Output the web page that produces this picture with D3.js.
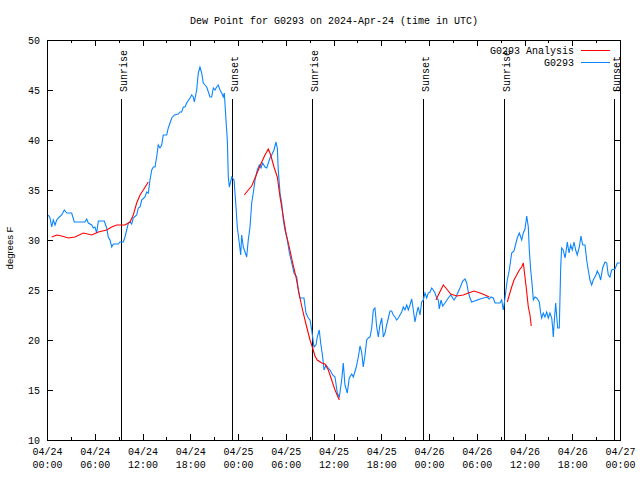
<!DOCTYPE html>
<html>
<head>
<meta charset="utf-8">
<script src="https://cdn.jsdelivr.net/npm/d3@7"></script>
<style>
  body { margin: 0; background: #fff; }
  svg text { font-family: "Liberation Mono", "DejaVu Sans Mono", monospace; font-size: 10px; fill: #000; }
  .ylab { font-family: "Liberation Sans", Arial, sans-serif; font-size: 9.5px; }
</style>
</head>
<body>
<svg width="640" height="480"></svg>
<script>
// hours since 2024-04-24 00:00 UTC, dew point in F
var station = [[0.16,32.5],[0.38,32.2],[0.59,31.3],[0.79,32.0],[1.01,31.5],[1.22,32.0],[1.42,32.2],[1.85,32.5],[2.17,33.0],[2.48,32.7],
  [3.10,32.7],[3.43,31.8],[4.77,31.8],[4.99,32.1],[5.19,31.7],[5.62,31.5],[5.82,31.2],[6.03,31.3],[6.24,30.7],[6.45,31.9],
  [7.20,31.9],[7.50,31.2],[7.70,30.3],[7.92,30.0],[8.13,29.3],[8.33,29.6],[8.96,29.6],[9.17,29.8],[9.59,29.8],[9.80,30.3],
  [10.01,31.0],[10.22,31.7],[10.43,31.8],[10.64,31.6],[10.84,32.2],[11.27,32.5],[11.47,33.2],[11.69,33.3],[11.90,34.0],[12.31,34.3],
  [12.53,34.8],[12.73,34.7],[12.94,36.0],[13.16,37.0],[13.36,37.3],[13.57,37.3],[13.78,38.3],[13.98,39.5],[14.20,39.2],[14.41,39.5],
  [14.61,40.5],[15.04,40.5],[15.24,41.2],[15.46,41.7],[15.67,42.2],[16.00,42.5],[16.50,42.6],[16.71,42.8],[16.93,42.8],[17.13,43.3],
  [17.34,43.3],[17.55,43.7],[17.97,44.2],[18.18,44.5],[18.38,44.3],[18.51,43.8],[18.81,45.0],[19.01,46.7],[19.22,47.3],[19.44,46.7],
  [19.64,45.7],[19.85,45.5],[20.07,45.3],[20.48,44.3],[20.69,44.3],[20.90,45.2],[21.11,45.0],[21.32,45.3],[21.52,45.5],[21.74,45.0],
  [21.95,44.7],[22.15,44.3],[22.28,44.7],[22.49,42.0],[22.66,40.0],[22.78,36.3],[22.91,35.3],[23.21,36.3],[23.50,36.0],[23.62,34.7],
  [23.75,33.3],[23.91,31.3],[24.16,29.7],[24.34,28.5],[24.46,30.5],[24.67,29.3],[24.88,28.8],[25.09,28.3],[25.29,30.0],[25.51,31.3],
  [25.72,33.7],[25.92,34.7],[26.14,36.0],[26.42,37.0],[26.68,37.5],[26.89,37.2],[27.10,37.7],[27.39,37.3],[27.61,37.2],[27.81,37.7],
  [28.02,38.2],[28.23,38.5],[28.52,39.0],[28.77,39.8],[28.94,39.2],[29.06,37.0],[29.28,34.7],[29.49,33.7],[29.69,32.0],[29.90,31.0],
  [30.19,30.0],[30.44,28.8],[30.75,27.7],[31.04,26.7],[31.38,26.3],[31.58,25.0],[31.79,24.2],[32.29,24.2],[32.54,22.7],[32.83,22.2],
  [33.05,22.0],[33.26,21.0],[33.38,20.3],[33.55,19.3],[33.80,19.5],[33.96,20.3],[34.21,21.0],[34.39,19.7],[34.64,18.3],[34.81,17.0],
  [35.06,17.5],[35.35,17.2],[35.56,17.0],[35.90,16.5],[36.19,16.3],[36.48,14.7],[36.73,14.3],[37.03,16.0],[37.23,17.7],[37.44,15.5],
  [37.73,14.7],[37.98,16.2],[38.29,16.6],[38.49,16.3],[38.83,17.2],[39.12,18.3],[39.33,19.4],[39.54,18.8],[39.74,17.3],[39.96,18.5],
  [40.17,20.0],[40.37,20.2],[40.59,20.3],[40.80,21.2],[41.00,23.0],[41.21,23.2],[41.43,21.3],[41.63,20.3],[41.84,21.5],[42.06,22.2],
  [42.26,20.3],[42.47,20.7],[42.68,21.5],[42.89,22.2],[43.10,22.9],[43.31,22.9],[43.51,22.5],[43.73,22.3],[43.94,22.0],[44.14,22.2],
  [44.35,22.5],[44.57,22.8],[44.77,23.3],[44.98,23.0],[45.20,23.5],[45.40,23.0],[45.61,23.5],[45.83,24.1],[46.03,23.0],[46.24,21.8],
  [46.45,22.7],[46.65,23.3],[46.87,22.5],[47.08,23.8],[47.28,24.0],[47.50,24.7],[47.71,24.2],[47.91,24.7],[48.12,24.8],[48.34,25.2],
  [48.54,25.0],[48.75,24.7],[48.97,24.2],[49.17,24.0],[49.29,23.1],[49.51,24.0],[49.72,23.4],[50.01,23.7],[50.42,24.2],[50.73,24.5],
  [51.14,24.0],[51.39,24.3],[51.89,25.2],[52.23,25.9],[52.52,26.1],[52.74,25.7],[52.94,24.8],[53.15,24.2],[53.36,23.8],[54.41,24.1],
  [55.25,24.3],[55.58,24.1],[55.79,24.3],[56.08,24.2],[56.29,23.7],[56.92,23.7],[57.13,24.0],[57.33,23.0],[57.55,24.2],[57.67,25.0],
  [57.84,26.0],[58.09,27.0],[58.39,28.7],[58.68,28.9],[58.93,29.7],[59.09,30.2],[59.35,30.7],[59.52,30.3],[59.65,30.0],[59.85,30.7],
  [60.06,31.1],[60.28,32.4],[60.48,31.3],[60.60,29.0],[60.78,27.0],[60.94,25.7],[61.11,24.0],[61.32,24.3],[61.53,24.2],[61.86,23.8],
  [62.03,22.7],[62.16,22.2],[62.36,22.7],[62.57,22.3],[62.79,22.8],[62.99,22.2],[63.20,22.7],[63.42,22.2],[63.54,21.2],[63.62,20.3],
  [63.75,22.0],[63.92,23.7],[64.05,22.3],[64.17,21.2],[64.37,21.2],[64.55,27.3],[64.67,29.2],[64.87,29.0],[65.09,28.2],[65.21,28.8],
  [65.38,29.8],[65.59,28.7],[65.80,29.5],[66.00,29.0],[66.22,29.8],[66.43,29.0],[66.63,28.5],[66.89,29.3],[67.10,30.4],[67.31,29.5],
  [67.60,29.5],[67.81,28.0],[68.01,27.0],[68.23,26.0],[68.44,25.5],[68.64,26.0],[68.98,26.5],[69.14,26.9],[69.40,26.5],[69.57,26.0],
  [69.82,27.2],[70.11,27.8],[70.33,27.7],[70.53,26.5],[70.74,26.3],[70.95,27.0],[71.37,27.1],[71.66,27.7],[72.00,27.7]];

// analysis, null marks a gap
var analysis = [[0.59,30.3],[1.22,30.5],[1.85,30.4],[2.68,30.2],[3.52,30.3],[4.56,30.7],[5.62,30.5],[6.45,30.8],[7.50,31.0],
  [8.13,31.3],[8.76,31.5],[9.80,31.5],[10.43,31.8],[10.84,32.5],[11.27,33.7],[11.69,34.5],[12.10,35.0],[12.73,35.8],
  [18.0,null],
  [24.79,34.5],[25.29,35.0],[25.72,35.4],[26.14,36.2],[26.55,37.0],[26.98,37.8],[27.39,38.5],[27.81,39.1],[28.11,38.5],
  [28.52,37.3],[28.94,36.3],[29.28,34.3],[29.62,32.7],[30.03,30.7],[30.44,29.3],[30.87,27.7],[31.29,26.3],[31.70,24.5],
  [32.20,22.7],[32.63,21.3],[33.05,20.0],[33.38,19.2],[33.67,18.4],[33.96,18.0],[34.52,17.7],[34.93,17.6],[35.35,17.0],
  [35.77,16.0],[36.19,15.0],[36.73,14.0],
  [42.0,null],
  [48.88,24.0],[49.17,24.5],[49.80,25.5],[50.22,25.1],[50.73,24.6],[51.48,24.4],[52.31,24.5],[52.94,24.7],[53.65,24.9],
  [54.41,24.7],[55.04,24.5],[55.58,24.3],
  [56.5,null],
  [57.84,23.8],[58.09,24.5],[58.39,25.3],[58.68,26.0],[59.02,26.5],[59.35,27.0],[59.65,27.3],[59.85,27.7],[60.06,26.3],
  [60.28,24.8],[60.48,23.3],[60.69,22.5],[60.85,21.4]];

var sunLabels = ["Sunrise","Sunset","Sunrise","Sunset","Sunrise","Sunset"];
var sunHours = [9.33, 23.2, 33.33, 47.3, 57.45, 71.2];
var yTicks = [10,15,20,25,30,35,40,45,50];

var t0 = Date.UTC(2024, 3, 24);
function toDate(h){ return new Date(t0 + h * 3600000); }

var svg = d3.select("svg"),
    margin = {top: 40, right: 20, bottom: 40, left: 47},
    width = 640 - margin.left - margin.right,
    height = 480 - margin.top - margin.bottom;

var x = d3.scaleUtc()
    .domain([toDate(0), toDate(72)])
    .range([margin.left, margin.left + width]);

var y = d3.scaleLinear()
    .domain([10, 50])
    .range([margin.top + height, margin.top]);

var fmtDay = d3.utcFormat("%m/%d"), fmtTime = d3.utcFormat("%H:%M");

// minor ticks every 3 hours, major every 6
function minor(axis){ return axis.ticks(d3.utcHour.every(3)).tickSizeInner(-3).tickSizeOuter(0).tickFormat(""); }

svg.append("g").attr("transform", "translate(0," + (margin.top + height) + ")")
    .call(minor(d3.axisBottom(x)));
svg.append("g").attr("transform", "translate(0," + margin.top + ")")
    .call(minor(d3.axisTop(x)));

var xAxis = svg.append("g")
    .attr("class", "axis axis--x")
    .attr("transform", "translate(0," + (margin.top + height) + ")")
    .call(d3.axisBottom(x).ticks(d3.utcHour.every(6)).tickSizeInner(-6).tickSizeOuter(0).tickPadding(8).tickFormat(fmtDay));

xAxis.selectAll(".tick text").each(function(d){
  var t = d3.select(this);
  t.append("tspan").attr("x", 0).attr("dy", "1.3em").text(fmtTime(d));
});

svg.append("g").attr("transform", "translate(0," + margin.top + ")")
    .call(d3.axisTop(x).ticks(d3.utcHour.every(6)).tickSizeInner(-6).tickSizeOuter(0).tickFormat(""));

svg.append("g")
    .attr("class", "axis axis--y")
    .attr("transform", "translate(" + margin.left + ",0)")
    .call(d3.axisLeft(y).tickValues(yTicks).tickSizeInner(-6).tickSizeOuter(0).tickPadding(7));

svg.append("g")
    .attr("transform", "translate(" + (margin.left + width) + ",0)")
    .call(d3.axisRight(y).tickValues(yTicks).tickSizeInner(-6).tickSizeOuter(0).tickFormat(""));

svg.selectAll(".domain").remove();
svg.selectAll(".tick line").attr("stroke", "#000").attr("shape-rendering", "crispEdges");
svg.selectAll(".tick text").attr("font-family", null).attr("font-size", null);

svg.append("rect")
    .attr("x", margin.left + 0.5).attr("y", margin.top + 0.5)
    .attr("width", width).attr("height", height)
    .attr("fill", "none").attr("stroke", "#000").attr("shape-rendering", "crispEdges");

// sunrise / sunset markers
sunHours.forEach(function(h, i){
  var sx = Math.round(x(toDate(h))) + 0.5;
  svg.append("line")
      .attr("x1", sx).attr("x2", sx)
      .attr("y1", 99).attr("y2", margin.top + height)
      .attr("stroke", "#000").attr("shape-rendering", "crispEdges");
  svg.append("text")
      .attr("transform", "translate(" + (sx + 5) + ",92) rotate(-90)")
      .text(sunLabels[i]);
});

var line = d3.line()
    .defined(function(d){ return d[1] != null; })
    .x(function(d){ return x(toDate(d[0])); })
    .y(function(d){ return y(d[1]); });

svg.append("path").datum(station)
    .attr("fill", "none").attr("stroke", "#0a84ff").attr("stroke-width", 1.1)
    .attr("d", line);

svg.append("path").datum(analysis)
    .attr("fill", "none").attr("stroke", "#ff0000").attr("stroke-width", 1.1)
    .attr("d", line);

// legend
var legend = [["G0293 Analysis", "#ff0000"], ["G0293", "#0a84ff"]];
legend.forEach(function(d, i){
  var ly = 50 + i * 12;
  svg.append("text").attr("x", 574).attr("y", ly + 4).attr("text-anchor", "end").text(d[0]);
  svg.append("line").attr("x1", 581).attr("x2", 610).attr("y1", ly + 0.5).attr("y2", ly + 0.5)
      .attr("stroke", d[1]).attr("shape-rendering", "crispEdges");
});

svg.append("text")
    .attr("x", 334).attr("y", 24)
    .attr("text-anchor", "middle")
    .text("Dew Point for G0293 on 2024-Apr-24 (time in UTC)");

svg.append("text")
    .attr("class", "ylab")
    .attr("transform", "translate(13,248) rotate(-90)")
    .attr("text-anchor", "middle")
    .text("degrees F");
</script>
</body>
</html>
